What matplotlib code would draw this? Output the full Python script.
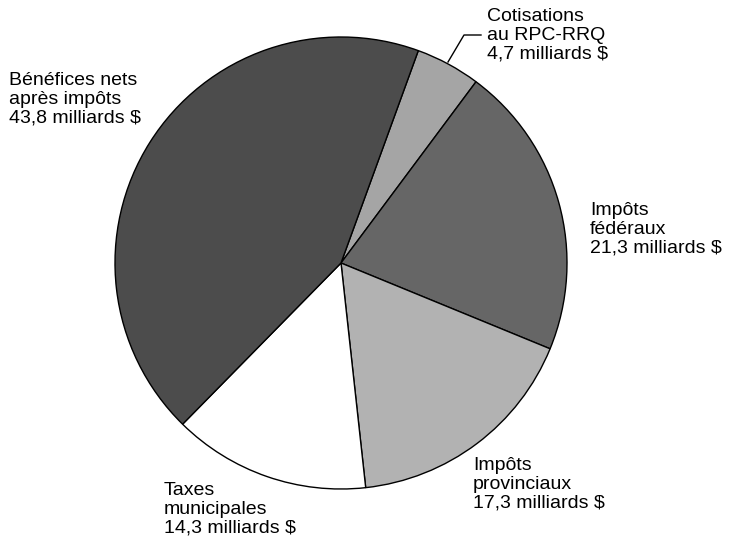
import matplotlib.pyplot as plt

labels = ['Cotisations\nau RPC-RRQ\n4,7 milliards $',
          'Impôts\nfédéraux\n21,3 milliards $',
          'Impôts\nprovinciaux\n17,3 milliards $',
          'Taxes\nmunicipales\n14,3 milliards $',
          'Bénéfices nets\naprès impôts\n43,8 milliards $']
values = [4.7, 21.3, 17.3, 14.3, 43.8]
colors = ['#a5a5a5', '#666666', '#b2b2b2', '#ffffff', '#4c4c4c']

plt.rc('font', family=['Liberation Sans', 'DejaVu Sans'])

W, H = 730, 545
fig = plt.figure(figsize=(W / 100, H / 100), dpi=100)
cx, cy, r = 341, 263, 226
ax = fig.add_axes([(cx - r) / W, (H - cy - r) / H, 2 * r / W, 2 * r / H])
ax.pie(values, colors=colors, startangle=70, counterclock=False, radius=1,
       wedgeprops=dict(edgecolor='black', linewidth=1.0))
ax.set_xlim(-1, 1)
ax.set_ylim(-1, 1)
ax.set_aspect('equal')
ax.axis('off')

# label anchors (top-left of text, in pixels from top-left)
label_pos = [(487, 8), (590, 202), (473, 457), (164, 482), (9, 72)]
for lab, (x, y) in zip(labels, label_pos):
    fig.text(x / W, 1 - y / H, lab, ha='left', va='top', fontsize=14,
             linespacing=1.13, color='black')

# leader line for the small slice
fig.add_artist(plt.Line2D([448 / W, 464 / W, 481 / W],
                          [1 - 62 / H, 1 - 35 / H, 1 - 35 / H],
                          color='black', linewidth=1.0))

fig.savefig('out.png', dpi=100)
